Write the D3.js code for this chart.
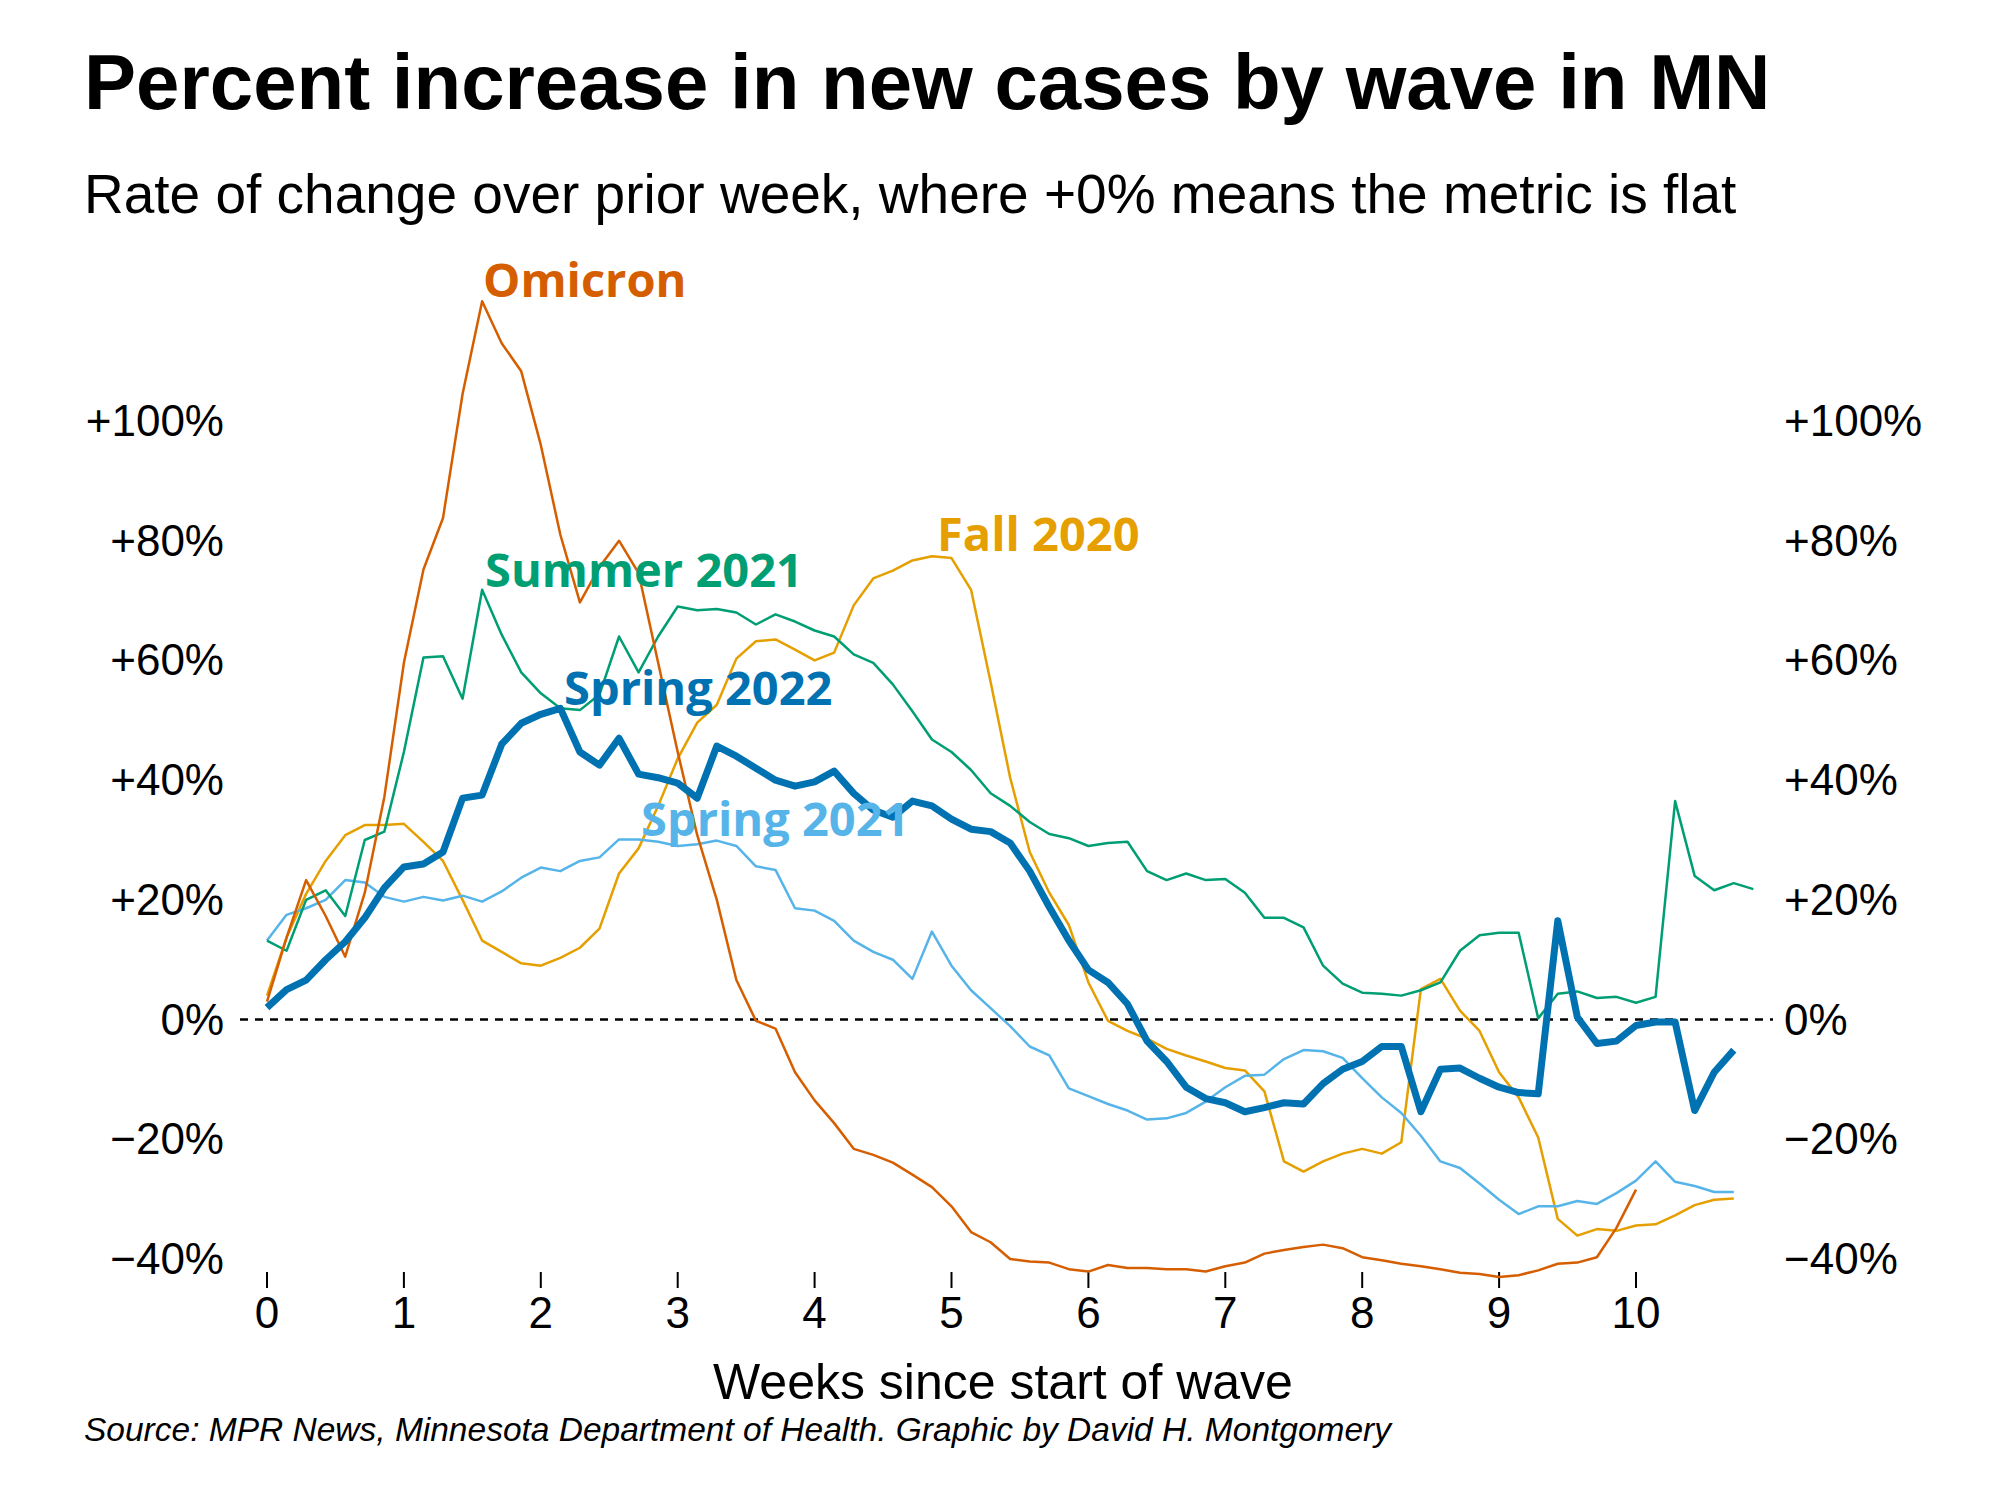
<!DOCTYPE html>
<html>
<head>
<meta charset="utf-8">
<script src="https://cdn.jsdelivr.net/npm/d3@7"></script>
<style>
  body { margin: 0; background: #fff; }
  text { font-family: "Liberation Sans", Arial, sans-serif; }
  .lbl { font-family: "Open Sans", "Noto Sans", sans-serif; font-weight: 700; }
</style>
</head>
<body>
<div id="chart-container"></div>
<script>
// daily values, one point per day (x = day / 7 weeks)
const spring2022 = [2,5,6.6,10,13,17,22,25.5,26,28,37,37.5,46,49.5,51,52,44.7,42.5,47,41,40.4,39.5,37,45.7,44,42,40,39,39.7,41.5,37.8,35,33.8,36.5,35.7,33.5,31.8,31.4,29.5,24.8,18.8,13.2,8.3,6.2,2.6,-3.6,-7,-11.3,-13.2,-13.9,-15.4,-14.7,-13.9,-14.1,-10.7,-8.3,-7,-4.5,-4.5,-15.4,-8.3,-8.1,-9.8,-11.3,-12.2,-12.4,16.5,0.4,-4,-3.6,-1,-0.4,-0.4,-15.2,-8.8,-5.1];
const summer2021 = [13.2,11.5,20,21.6,17.3,30,31.4,44.7,60.5,60.7,53.6,71.8,64.3,58,54.5,52,51.7,54.3,64,58,64,69,68.4,68.6,68,66,67.7,66.5,65,64,61,59.6,56,51.5,46.8,44.7,41.7,37.8,35.7,33,31,30.3,29,29.5,29.7,24.8,23.3,24.4,23.3,23.5,21.2,17,17,15.4,9,6,4.5,4.3,4,4.9,6.2,11.5,14.1,14.5,14.5,0.2,4.3,4.7,3.6,3.8,2.8,3.8,36.5,24,21.6,22.8,21.8];
const fall2020 = [4,13.7,21,26.5,30.8,32.5,32.5,32.7,29.7,26.5,20,13.2,11.3,9.4,9,10.3,12,15.2,24.4,28.6,35.7,43.6,49.6,52.6,60.3,63.2,63.5,61.8,60,61.3,69.2,73.7,75,76.7,77.4,77.1,71.8,56.4,40.4,28,21.2,15.8,6.2,-0.2,-1.9,-3.2,-4.9,-6,-7,-8.1,-8.5,-12,-23.7,-25.4,-23.7,-22.4,-21.6,-22.4,-20.5,5.1,6.8,1.5,-1.9,-8.8,-13,-19.7,-33.3,-36.1,-35,-35.3,-34.4,-34.2,-32.7,-31,-30.1,-29.9];
const omicron = [3,13.7,23.3,17.3,10.5,21.2,37.2,59.6,75.2,83.8,104.5,120,113,108.3,96,81,69.7,75.6,80,74.6,59.6,44.7,30.8,20,6.6,-0.2,-1.5,-8.8,-13.5,-17.3,-21.6,-22.6,-23.9,-25.9,-28,-31.2,-35.5,-37.2,-40,-40.4,-40.6,-41.7,-42.1,-41,-41.5,-41.5,-41.7,-41.7,-42.1,-41.2,-40.6,-39.1,-38.5,-38,-37.6,-38.2,-39.7,-40.2,-40.8,-41.2,-41.7,-42.3,-42.5,-43,-42.7,-41.9,-40.8,-40.6,-39.7,-34.8,-28.4];
const spring2021 = [13.2,17.5,18.6,20,23.3,22.9,20.5,19.7,20.5,19.9,20.7,19.7,21.4,23.7,25.4,24.8,26.5,27.1,30.1,30.1,29.7,29,29.3,29.9,29,25.6,25,18.6,18.2,16.5,13.2,11.3,10,6.8,14.7,9,4.9,1.9,-1.1,-4.5,-6,-11.5,-12.8,-14.1,-15.2,-16.7,-16.5,-15.6,-13.7,-11.3,-9.4,-9.2,-6.6,-5.1,-5.3,-6.4,-9.8,-13,-15.6,-19.4,-23.7,-24.8,-27.4,-30.1,-32.5,-31.2,-31.2,-30.3,-30.8,-29,-26.9,-23.7,-27.1,-27.8,-28.8,-28.8];
const yTicks = [-40,-20,0,20,40,60,80,100];
const xTicks = [0,1,2,3,4,5,6,7,8,9,10];

const series = [
  {name: 'Fall 2020', values: fall2020, color: '#e69f00', w: 2.5, lx: 937, ly: 551},
  {name: 'Spring 2021', values: spring2021, color: '#56b4e9', w: 2.5, lx: 641, ly: 836},
  {name: 'Summer 2021', values: summer2021, color: '#009e73', w: 2.5, lx: 485, ly: 587},
  {name: 'Omicron', values: omicron, color: '#d55e00', w: 2.5, lx: 483, ly: 297},
  {name: 'Spring 2022', values: spring2022, color: '#0072b2', w: 7, lx: 564, ly: 705}
];

const svg = d3.select('#chart-container').append('svg')
  .attr('width', 2000).attr('height', 1500);

const x = d3.scaleLinear().domain([0, 10]).range([267, 1636]);
const y = d3.scaleLinear().domain([-40, 100]).range([1259, 421]);

svg.append('text').attr('x', 84).attr('y', 109)
  .attr('font-size', 78).attr('font-weight', 700)
  .text('Percent increase in new cases by wave in MN');
svg.append('text').attr('x', 84).attr('y', 213)
  .attr('font-size', 55)
  .text('Rate of change over prior week, where +0% means the metric is flat');

const fmt = d => d > 0 ? '+' + d + '%' : d < 0 ? '\u2212' + (-d) + '%' : '0%';

svg.selectAll('.yl').data(yTicks).enter().append('text')
  .attr('x', 224).attr('y', d => y(d) + 15)
  .attr('text-anchor', 'end').attr('font-size', 44).text(fmt);
svg.selectAll('.yr').data(yTicks).enter().append('text')
  .attr('x', 1784).attr('y', d => y(d) + 15)
  .attr('font-size', 44).text(fmt);

svg.selectAll('.xt').data(xTicks).enter().append('line')
  .attr('x1', d => x(d)).attr('x2', d => x(d))
  .attr('y1', 1272).attr('y2', 1288)
  .attr('stroke', '#000').attr('stroke-width', 2);
svg.selectAll('.xl').data(xTicks).enter().append('text')
  .attr('x', d => x(d)).attr('y', 1328)
  .attr('text-anchor', 'middle').attr('font-size', 44).text(d => d);

svg.append('line')
  .attr('x1', 240).attr('x2', 1773)
  .attr('y1', y(0)).attr('y2', y(0))
  .attr('stroke', '#000').attr('stroke-width', 2.5)
  .attr('stroke-dasharray', '8,7');

const line = d3.line().x((d, i) => x(i / 7)).y(d => y(d));

series.forEach(s => {
  svg.append('path').datum(s.values)
    .attr('d', line).attr('fill', 'none')
    .attr('stroke', s.color).attr('stroke-width', s.w)
    .attr('stroke-linejoin', 'round');
});
series.forEach(s => {
  svg.append('text').attr('class', 'lbl')
    .attr('x', s.lx).attr('y', s.ly)
    .attr('font-size', 47).attr('fill', s.color).text(s.name);
});

svg.append('text').attr('x', 1003).attr('y', 1399)
  .attr('text-anchor', 'middle').attr('font-size', 50)
  .text('Weeks since start of wave');
svg.append('text').attr('x', 84).attr('y', 1441)
  .attr('font-size', 33.5).attr('font-style', 'italic')
  .text('Source: MPR News, Minnesota Department of Health. Graphic by David H. Montgomery');
</script>
</body>
</html>
